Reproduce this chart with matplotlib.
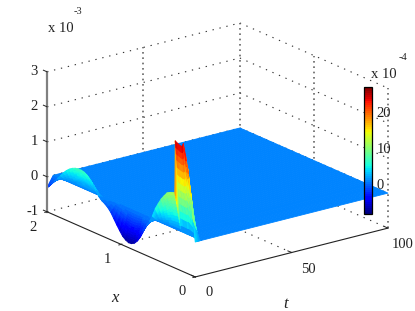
#!/usr/bin/env python
import numpy as np
import matplotlib
matplotlib.use('Agg')
import matplotlib.pyplot as plt
from matplotlib.cm import ScalarMappable
from matplotlib.colors import Normalize
from mpl_toolkits.mplot3d import proj3d

plt.rcParams['font.family'] = ['Liberation Serif', 'DejaVu Serif']

#surface, z in units of 1e-3
x_vals = [0, .03, .068, .10, .13, .16, .18, .20, .24, .27, .275, .30, .34, .38, .42, .46, .50, .54, .58,
          .62, .66, .70, .74, .78, .82, .86, .90, .94, .98, 1.02, 1.06, 1.10, 1.14, 1.18, 1.22, 1.26,
          1.30, 1.34, 1.38, 1.42, 1.46, 1.50, 1.54, 1.58, 1.62, 1.66, 1.70, 1.74, 1.78, 1.82, 1.86,
          1.90, 1.94, 1.98, 2.0]
edge_vals = [0, .62, 1.43, 2.0, 2.35, 2.66, 2.56, 2.56, 2.6, 2.64, 1.15, 1.13, 1.1, 1.05, .93, .8, .63, .45, .2,
             0, -.15, -.35, -.55, -.7, -.8, -.85, -.86, -.82, -.75, -.63, -.5, -.36, -.22, -.12, -.05, 0,
             .08, .22, .36, .47, .55, .6, .62, .62, .6, .56, .5, .42, .32, .2, .08,
             -.03, -.15, -.27, -.3]
t_rows = [0, .25, .5, .75, 1, 1.25, 1.5, 1.75, 2, 2.25, 2.5, 2.75, 3, 3.25, 100]
row_scale = [1, .93, .86, .79, .71, .63, .55, .47, .39, .31, .23, .15, .07, 0, 0]

t_ticks = [0, 50, 100]
x_ticks = [0, 1, 2]
z_ticks = [-1, 0, 1, 2, 3]
cbar_ticks = [0, 10, 20]
cbar_lim = (-8.2, 26.9)

fig = plt.figure(figsize=(4.15, 3.11), dpi=100)
ax = fig.add_axes([92.9/415, 36.4/311, 242.7/415, 242.7/311], projection='3d', proj_type='ortho',
                  computed_zorder=False)
ax.set_box_aspect((242, 245, 148.5), zoom=1.5)
ax.view_init(elev=19.5, azim=-127.2)
ax.set_xlim(0, 100)
ax.set_ylim(0, 2)
ax.set_zlim(-1, 3)
ax.set_axis_off()

X, T = np.meshgrid(x_vals, t_rows)
Z = np.outer(row_scale, edge_vals)

#colour every quad by its mean height, colorbar is in 1e-4
cmap = plt.get_cmap('jet', 64)
norm = Normalize(*cbar_lim)
Zmid = (Z[:-1, :-1] + Z[1:, :-1] + Z[:-1, 1:] + Z[1:, 1:])/4.0
surf = ax.plot_surface(T, X, Z, facecolors=cmap(norm(Zmid*10*0.92 + 0.7)), rstride=1, cstride=1, shade=False,
                       linewidth=0.6, antialiased=True, zorder=3)
surf.set_clip_on(False)

#back walls and floor, dotted
dots = dict(color='#333333', lw=0.8, ls=(0, (1.2, 5.2)), zorder=1, clip_on=False)
vdots = dict(color='#666666', lw=1.2, ls=(0, (1, 2.2)), zorder=1, clip_on=False)
for z in z_ticks:
    ax.plot([0, 100], [2, 2], [z, z], **dots)
    ax.plot([100, 100], [2, 0], [z, z], **dots)
for t in t_ticks[1:]:
    ax.plot([t, t], [2, 2], [-1, 3], **vdots)
    if t < 100:
        ax.plot([t, t], [0, 2], [-1, -1], **dots)
for x in x_ticks[:-1]:
    ax.plot([100, 100], [x, x], [-1, 3], **vdots)
    if x > 0:
        ax.plot([0, 100], [x, x], [-1, -1], **dots)

#solid axes
solid = dict(color='#222222', zorder=4, clip_on=False)
ax.plot([0, 0], [2, 2], [-1, 3], color='#808080', lw=1.6, zorder=4, clip_on=False)
ax.plot([0, 0], [0, 2], [-1, -1], lw=0.8, **solid)
ax.plot([0, 100], [0, 0], [-1, -1], lw=0.8, **solid)
for z in z_ticks:
    ax.plot([0, 0], [2, 2.05], [z, z], lw=0.7, **solid)
for x in x_ticks:
    ax.plot([0, -1.2], [x, x], [-1, -1], lw=0.7, **solid)
for t in t_ticks:
    ax.plot([t, t], [0, 0.05], [-1, -1], lw=0.7, **solid)


def label3d(t, x, z, s, dx, dy, size=10.5, **kw):
    #text offset in pixels from a point of the box
    x2, y2, _ = proj3d.proj_transform(t, x, z, ax.get_proj())
    ax.annotate(s, xy=(x2, y2), xytext=(dx*0.72, dy*0.72), textcoords='offset points', ha='center', va='center',
                fontsize=size, annotation_clip=False, color='#222222', zorder=6, **kw)


for z in z_ticks:
    label3d(0, 2, z, str(z), -13 if z >= 0 else -15, 0)
label3d(0, 0, -1, '0', -13, -15)
label3d(0, 1, -1, '1', -14, -15)
label3d(0, 2, -1, '2', -14, -16)
label3d(0, 0, -1, '0', 14, -16)
label3d(50, 0, -1, '50', 17, -17)
label3d(100, 0, -1, '100', 15, -16)
label3d(0, 1, -1, 'x', -6, -54, size=12, style='italic')
label3d(50, 0, -1, 't', -6, -51, size=12, style='italic')
fig.text(61/415, 1 - 28/311, 'x 10', ha='center', va='center', fontsize=10.5, color='#222222')
fig.text(78/415, 1 - 12/311, '-3', ha='center', va='center', fontsize=7.5, color='#222222')

#colorbar
cax = fig.add_axes([364/415, 1 - 213.5/311, 7.5/415, 126.5/311])
cb = fig.colorbar(ScalarMappable(norm=norm, cmap=cmap), cax=cax, ticks=cbar_ticks)
cb.outline.set_linewidth(0.9)
cax.tick_params(length=0, pad=3.5, labelsize=10.5, labelcolor='#222222')
fig.text(384/415, 1 - 74/311, 'x 10', ha='center', va='center', fontsize=10.5, color='#222222')
fig.text(403/415, 1 - 58/311, '-4', ha='center', va='center', fontsize=7.5, color='#222222')

plt.savefig('out.png', dpi=100)
